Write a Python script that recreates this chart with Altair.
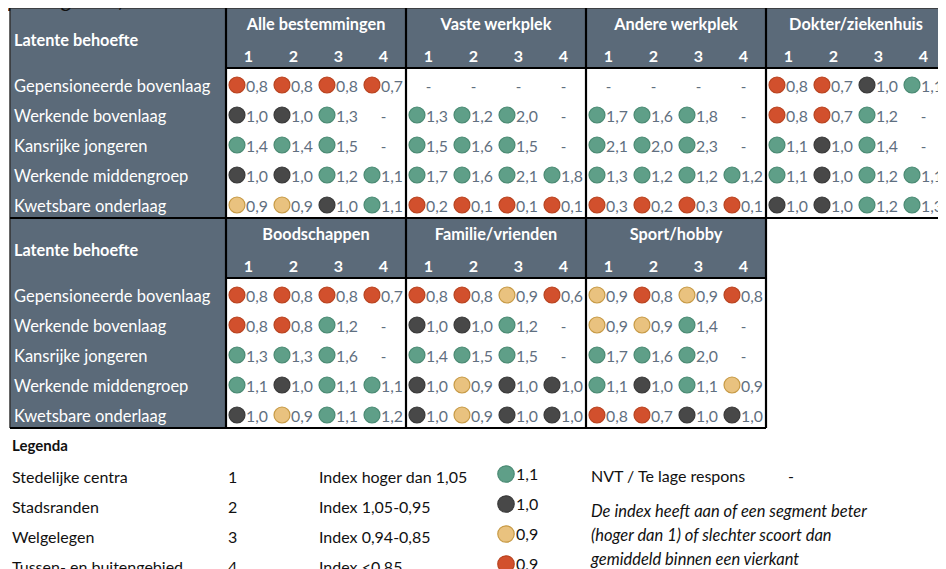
import altair as alt
import pandas as pd

# ---------------- data ----------------
segments = ["Gepensioneerde bovenlaag", "Werkende bovenlaag", "Kansrijke jongeren",
            "Werkende middengroep", "Kwetsbare onderlaag"]
subcols = ["1", "2", "3", "4"]
groups_top = ["Alle bestemmingen", "Vaste werkplek", "Andere werkplek", "Dokter/ziekenhuis"]
groups_bottom = ["Boodschappen", "Familie/vrienden", "Sport/hobby"]

alle_bestemmingen = [[0.8, 0.8, 0.8, 0.7], [1.0, 1.0, 1.3, None], [1.4, 1.4, 1.5, None],
                     [1.0, 1.0, 1.2, 1.1], [0.9, 0.9, 1.0, 1.1]]
vaste_werkplek = [[None, None, None, None], [1.3, 1.2, 2.0, None], [1.5, 1.6, 1.5, None],
                  [1.7, 1.6, 2.1, 1.8], [0.2, 0.1, 0.1, 0.1]]
andere_werkplek = [[None, None, None, None], [1.7, 1.6, 1.8, None], [2.1, 2.0, 2.3, None],
                   [1.3, 1.2, 1.2, 1.2], [0.3, 0.2, 0.3, 0.1]]
dokter_ziekenhuis = [[0.8, 0.7, 1.0, 1.1], [0.8, 0.7, 1.2, None], [1.1, 1.0, 1.4, None],
                     [1.1, 1.0, 1.2, 1.1], [1.0, 1.0, 1.2, 1.3]]
boodschappen = [[0.8, 0.8, 0.8, 0.7], [0.8, 0.8, 1.2, None], [1.3, 1.3, 1.6, None],
                [1.1, 1.0, 1.1, 1.1], [1.0, 0.9, 1.1, 1.2]]
familie_vrienden = [[0.8, 0.8, 0.9, 0.6], [1.0, 1.0, 1.2, None], [1.4, 1.5, 1.5, None],
                    [1.0, 0.9, 1.0, 1.0], [1.0, 0.9, 1.0, 1.0]]
sport_hobby = [[0.9, 0.8, 0.9, 0.8], [0.9, 0.9, 1.4, None], [1.7, 1.6, 2.0, None],
               [1.1, 1.0, 1.1, 0.9], [0.8, 0.7, 1.0, 1.0]]

legend_segments = ["Stedelijke centra", "Stadsranden", "Welgelegen", "Tussen- en buitengebied"]
legend_numbers = ["1", "2", "3", "4"]
legend_index = ["Index hoger dan 1,05", "Index 1,05-0,95", "Index 0,94-0,85", "Index <0,85"]
legend_samples = [1.1, 1.0, 0.9, 0.9]
legend_sample_class = ["hoog", "gemiddeld", "lager", "laag"]
legend_note = ["De index heeft aan of een segment beter",
               "(hoger dan 1) of slechter scoort dan",
               "gemiddeld binnen een vierkant"]

# ---------------- styling / layout ----------------
W, H = 930, 561
SLATE = "#5b6a79"
VAL_COLOR = "#5f6f80"
FONT = "Lato"
FILL = {"hoog": "#5f9f88", "gemiddeld": "#484848", "lager": "#e9c27f", "laag": "#d2502d"}
STROKE = {"hoog": "#4a8a73", "gemiddeld": "#3a3a3a", "lager": "#c79a45", "laag": "#b9431f"}

X_LEFT, LABEL_W, COL_W, GROUP_W = 2, 216, 45, 180
X_DATA = X_LEFT + LABEL_W
HEAD_H, ROW_H = 60, 30
T1_TOP = 0
T2_TOP = T1_TOP + HEAD_H + 5 * ROW_H
T2_BOT = T2_TOP + HEAD_H + 5 * ROW_H
X_RIGHT1 = X_DATA + 4 * GROUP_W
X_RIGHT2 = X_DATA + 3 * GROUP_W


def cls(v):
    if v >= 1.05:
        return "hoog"
    if v >= 0.95:
        return "gemiddeld"
    if v >= 0.85:
        return "lager"
    return "laag"


def fmt(v):
    return f"{v:.1f}".replace(".", ",")


tables = [
    (T1_TOP, groups_top, [alle_bestemmingen, vaste_werkplek, andere_werkplek, dokter_ziekenhuis]),
    (T2_TOP, groups_bottom, [boodschappen, familie_vrienden, sport_hobby]),
]

cells, dashes, heads, subheads, rowlabels, toplabels = [], [], [], [], [], []
for top, gnames, gdata in tables:
    toplabels.append({"x": X_LEFT + 4, "y": top + 33, "t": "Latente behoefte"})
    for r, seg in enumerate(segments):
        rowlabels.append({"x": X_LEFT + 4, "y": top + HEAD_H + ROW_H * r + 18.5, "t": seg})
    for g, (gname, mat) in enumerate(zip(gnames, gdata)):
        gx = X_DATA + GROUP_W * g
        heads.append({"x": gx + GROUP_W / 2, "y": top + 16.5, "t": gname})
        for c, sc in enumerate(subcols):
            subheads.append({"x": gx + COL_W * c + COL_W / 2, "y": top + 49, "t": sc})
        for r in range(len(segments)):
            for c in range(4):
                v = mat[r][c]
                cx = gx + COL_W * c
                cy = top + HEAD_H + ROW_H * r + 17
                if v is None:
                    dashes.append({"x": cx + 22.5, "y": cy + 1.5, "t": "-"})
                else:
                    k = cls(v)
                    cells.append({"xc": cx + 11, "xt": cx + 20, "y": cy, "yt": cy + 1.5, "t": fmt(v),
                                  "fill": FILL[k], "stroke": STROKE[k]})

cells = pd.DataFrame(cells)
dashes = pd.DataFrame(dashes)
heads = pd.DataFrame(heads)
subheads = pd.DataFrame(subheads)
rowlabels = pd.DataFrame(rowlabels)
toplabels = pd.DataFrame(toplabels)

bg = pd.DataFrame([
    {"x": X_LEFT, "x2": X_DATA, "y": T1_TOP, "y2": T2_BOT},
    {"x": X_DATA, "x2": X_RIGHT1, "y": T1_TOP, "y2": T1_TOP + HEAD_H},
    {"x": X_DATA, "x2": X_RIGHT2, "y": T2_TOP, "y2": T2_TOP + HEAD_H},
])

thick = []
for gx in range(4):
    x = X_DATA + GROUP_W * gx
    thick.append({"x": x, "x2": x, "y": T1_TOP, "y2": T2_TOP})
    thick.append({"x": x, "x2": x, "y": T2_TOP, "y2": T2_BOT})
thick += [
    {"x": X_DATA, "x2": X_RIGHT1, "y": T1_TOP + HEAD_H, "y2": T1_TOP + HEAD_H},
    {"x": X_LEFT, "x2": X_RIGHT1, "y": T2_TOP, "y2": T2_TOP},
    {"x": X_DATA, "x2": X_RIGHT2, "y": T2_TOP + HEAD_H, "y2": T2_TOP + HEAD_H},
    {"x": X_LEFT, "x2": X_RIGHT2, "y": T2_BOT, "y2": T2_BOT},
]
thick = pd.DataFrame(thick)
thin = pd.DataFrame([
    {"x": X_LEFT, "x2": X_RIGHT1, "y": T1_TOP, "y2": T1_TOP},
    {"x": X_LEFT, "x2": X_LEFT, "y": T1_TOP, "y2": T2_BOT},
])

# legend
LEG_Y = T2_BOT + 18
leg_rows = []
for i in range(4):
    k = legend_sample_class[i]
    leg_rows.append({"y": LEG_Y + 32 + 30 * i, "seg": legend_segments[i], "num": legend_numbers[i],
                     "idx": legend_index[i], "val": fmt(legend_samples[i]),
                     "fill": FILL[k], "stroke": STROKE[k]})
leg_rows = pd.DataFrame(leg_rows)
note = pd.DataFrame([{"y": LEG_Y + 66 + 24 * i, "t": t} for i, t in enumerate(legend_note)])
legend_title = pd.DataFrame([{"x": 4, "y": LEG_Y, "t": "Legenda"}])
misc = pd.DataFrame([
    {"x": 583, "y": LEG_Y + 31, "t": "NVT / Te lage respons"},
    {"x": 780, "y": LEG_Y + 31, "t": "-"},
])

xs = alt.Scale(domain=[0, W])
ys = alt.Scale(domain=[0, H], reverse=True)


def X(f):
    return alt.X(f"{f}:Q", scale=xs, axis=None)


def Y(f):
    return alt.Y(f"{f}:Q", scale=ys, axis=None)


def txt(df, **kw):
    base = dict(align="left", baseline="middle", font=FONT, fontSize=16, color="#111111")
    base.update(kw)
    return alt.Chart(df).mark_text(**base)


layers = []
layers.append(alt.Chart(bg).mark_rect(color=SLATE).encode(
    x=X("x"), x2="x2", y=Y("y"), y2="y2"))
layers.append(alt.Chart(thin).mark_rule(color="#333333", strokeWidth=1.5).encode(
    x=X("x"), x2="x2", y=Y("y"), y2="y2"))
layers.append(alt.Chart(thick).mark_rule(color="#000000", strokeWidth=2.2).encode(
    x=X("x"), x2="x2", y=Y("y"), y2="y2"))

layers.append(txt(toplabels, fontSize=16.3, fontWeight="bold", color="white").encode(
    x=X("x"), y=Y("y"), text="t:N"))
layers.append(txt(rowlabels, fontSize=16.5, color="white").encode(
    x=X("x"), y=Y("y"), text="t:N"))
layers.append(txt(heads, align="center", fontSize=16.3, fontWeight="bold", color="white").encode(
    x=X("x"), y=Y("y"), text="t:N"))
layers.append(txt(subheads, align="center", fontSize=16, fontWeight="bold", color="white").encode(
    x=X("x"), y=Y("y"), text="t:N"))

layers.append(alt.Chart(cells).mark_circle(size=255, opacity=1, strokeWidth=1.2).encode(
    x=X("xc"), y=Y("y"), fill=alt.Fill("fill:N", scale=None), stroke=alt.Stroke("stroke:N", scale=None)))
layers.append(txt(cells, fontSize=15.8, color=VAL_COLOR).encode(
    x=X("xt"), y=Y("yt"), text="t:N"))
layers.append(txt(dashes, align="center", fontSize=15, color=VAL_COLOR).encode(
    x=X("x"), y=Y("y"), text="t:N"))

# legend layers
layers.append(txt(legend_title, fontSize=15, fontWeight="bold").encode(x=X("x"), y=Y("y"), text="t:N"))
layers.append(txt(misc).encode(x=X("x"), y=Y("y"), text="t:N"))
layers.append(txt(leg_rows).encode(x=X("seg_x"), y=Y("y"), text="seg:N").transform_calculate(seg_x="4"))
layers.append(txt(leg_rows).encode(x=X("num_x"), y=Y("y"), text="num:N").transform_calculate(num_x="220"))
layers.append(txt(leg_rows).encode(x=X("idx_x"), y=Y("y"), text="idx:N").transform_calculate(idx_x="311"))
layers.append(alt.Chart(leg_rows).mark_circle(size=270, opacity=1, strokeWidth=1.2).encode(
    x=X("c_x"), y=Y("cy"), fill=alt.Fill("fill:N", scale=None),
    stroke=alt.Stroke("stroke:N", scale=None)).transform_calculate(c_x="498", cy="datum.y - 4"))
layers.append(txt(leg_rows).encode(x=X("v_x"), y=Y("vy"), text="val:N").transform_calculate(
    v_x="508", vy="datum.y - 3"))
layers.append(txt(note, fontSize=16.5, fontStyle="italic").encode(
    x=X("n_x"), y=Y("y"), text="t:N").transform_calculate(n_x="583"))

title_df = pd.DataFrame([{"x": 0, "y": -1, "t": "per segment)"}])
layers.append(txt(title_df, baseline="alphabetic", fontSize=22, fontStyle="italic").encode(
    x=X("x"), y=Y("y"), text="t:N"))

chart = alt.layer(*layers).properties(
    width=W, height=H, autosize=alt.AutoSizeParams(type="none"), padding=0, background="white"
).configure_view(stroke=None)

chart.save("out.html", embed_options={"renderer": "svg", "actions": False})
